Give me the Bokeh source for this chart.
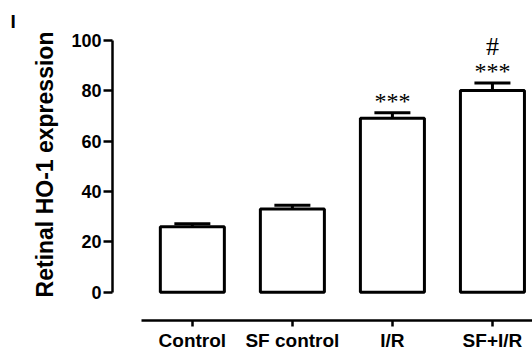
from bokeh.plotting import figure
from bokeh.models import Range1d, FixedTicker, Whisker, ColumnDataSource, TeeHead
from bokeh.embed import file_html
from bokeh.resources import INLINE

# ---- data ----
categories = ["Control", "SF control", "I/R", "SF+I/R"]
means = [26.0, 33.0, 69.0, 80.0]
errors = [1.2, 1.5, 2.2, 3.0]
stars = ["", "", "***", "***"]
hashes = ["", "", "", "#"]
y_ticks = [0, 20, 40, 60, 80, 100]

xs = list(range(1, len(categories) + 1))
uppers = [m + e for m, e in zip(means, errors)]
src = ColumnDataSource(dict(
    x=xs, top=means, upper=uppers, star=stars, hash=hashes,
    star_y=[u + 4.8 for u in uppers],
    hash_y=[u + 14.6 for u in uppers],
))

FONT = "Liberation Sans"

p = figure(width=532, height=355, output_backend="svg", toolbar_location=None,
           x_range=Range1d(0.2017, 4.4005), y_range=Range1d(-11.23, 112.58),
           min_border_left=112, min_border_right=0, min_border_top=8,
           min_border_bottom=35, title="I")
p.outline_line_color = None
p.grid.visible = False

p.title.text_font = FONT
p.title.text_font_style = "bold"
p.title.text_font_size = "19px"
p.title.text_color = "black"
p.title.align = "left"
p.title.offset = -102
p.title.standoff = -47

p.vbar(x="x", top="top", bottom=0, width=0.64, fill_color="white",
       line_color="black", line_width=3, source=src)

whisk = Whisker(base="x", lower="top", upper="upper", source=src,
                line_color="black", line_width=3,
                upper_head=TeeHead(size=36, line_width=3, line_color="black"),
                lower_head=None)
p.add_layout(whisk)

p.text(x="x", y="star_y", text="star", source=src, text_align="center",
       text_baseline="middle", text_font_size="24px", text_font=FONT)
p.text(x="x", y="hash_y", text="hash", source=src, text_align="center",
       text_baseline="middle", text_font_size="26px", text_font=FONT)

# y axis
ya = p.yaxis[0]
ya.bounds = (0, 100)
ya.ticker = FixedTicker(ticks=y_ticks)
ya.minor_tick_line_color = None
ya.major_tick_in = 0
ya.major_tick_out = 9
ya.axis_line_width = 2.5
ya.major_tick_line_width = 2.5
ya.axis_line_color = "black"
ya.major_tick_line_color = "black"
ya.major_label_text_font = FONT
ya.major_label_text_font_style = "bold"
ya.major_label_text_font_size = "18px"
ya.major_label_text_color = "black"
ya.major_label_standoff = 2
ya.axis_label = "Retinal HO-1 expression"
ya.axis_label_text_font = FONT
ya.axis_label_text_font_style = "bold"
ya.axis_label_text_font_size = "23px"
ya.axis_label_text_color = "black"
ya.axis_label_standoff = 10

# x axis
xa = p.xaxis[0]
xa.bounds = (0.488, 4.4005)
xa.ticker = FixedTicker(ticks=xs)
xa.major_label_overrides = {x: c for x, c in zip(xs, categories)}
xa.minor_tick_line_color = None
xa.major_tick_in = 0
xa.major_tick_out = 6
xa.axis_line_width = 2.5
xa.major_tick_line_width = 2.5
xa.axis_line_color = "black"
xa.major_tick_line_color = "black"
xa.major_label_text_font = FONT
xa.major_label_text_font_style = "bold"
xa.major_label_text_font_size = "19px"
xa.major_label_text_color = "black"
xa.major_label_standoff = 3

open("out.html", "w").write(file_html(p, INLINE))
